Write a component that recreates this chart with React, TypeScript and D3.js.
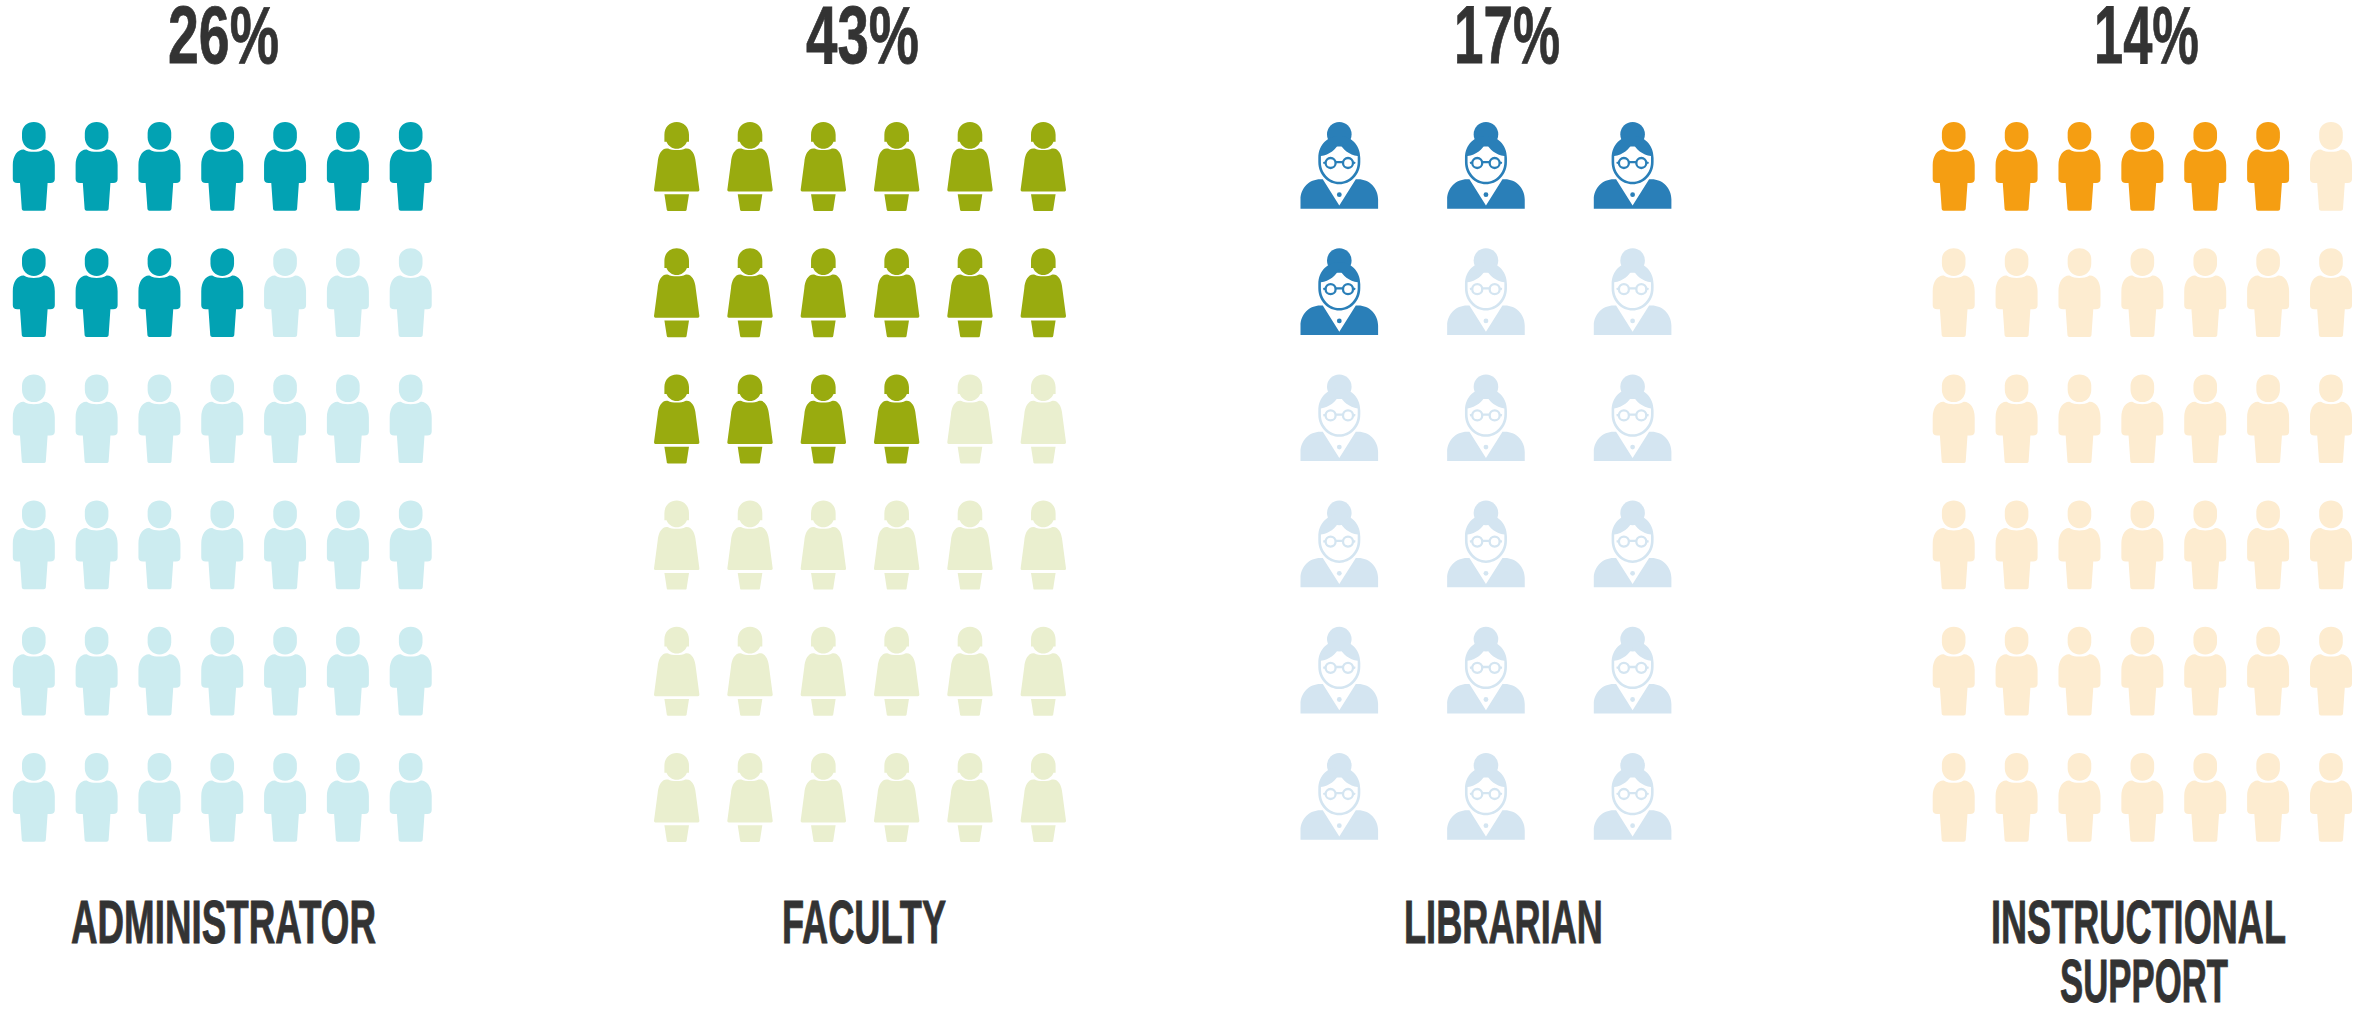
import React from "react";
import * as d3 from "d3";

// ---- data ----
const categories = ["ADMINISTRATOR", "FACULTY", "LIBRARIAN", "INSTRUCTIONAL SUPPORT"];
const percentLabels = ["26%", "43%", "17%", "14%"];
const filledIcons = [11, 16, 4, 6];
const columnCounts = [7, 6, 3, 7];
const rowCounts = [6, 6, 6, 6];
const iconKinds = ["man", "woman", "librarian", "man"];

// ---- styles / layout ----
const darkColors = ["#02A2B3", "#99AB0F", "#2A7FB8", "#F59E12"];
const lightColors = ["#CCECF0", "#EAEFCF", "#D4E5F1", "#FDECD0"];
const firstColumnX = [33.8, 676.7, 1339.3, 1953.7];
const lastColumnX = [410.7, 1043.3, 1632.6, 2331];
const percentExtents: [number, number][] = [[168, 279], [806, 919], [1454, 1560], [2094, 2199]];
const labelLines: [string, number, number, number][][] = [
  [["ADMINISTRATOR", 71, 376, 942.7]],
  [["FACULTY", 782, 946, 942.7]],
  [["LIBRARIAN", 1404, 1603, 942.7]],
  [["INSTRUCTIONAL", 1991, 2286, 942.7], ["SUPPORT", 2060, 2228, 1001.7]],
];

const WIDTH = 2356;
const HEIGHT = 1010;
const FONT = "'Liberation Sans Narrow', 'Liberation Sans', sans-serif";
const TEXT = "#333333";

const MAN_HEAD = "M-11.8,11 C-11.8,4.5 -6.5,0 0,0 C6.5,0 11.8,4.5 11.8,11 V15.5 C11.8,22.5 6.5,27.7 0,27.7 C-6.5,27.7 -11.8,22.5 -11.8,15.5 Z";
const MAN_BODY = "M-10,27.4 C-7,29.4 -3.5,29.8 0,29.8 C3.5,29.8 7,29.4 10,27.4 C16,27 21,33.5 21,43 V57 Q21,61 16.5,61 H13.8 L12,87 Q11.8,88.7 10,88.7 H-10 Q-11.8,88.7 -12,87 L-13.8,61 H-16.5 Q-21,61 -21,57 V43 C-21,33.5 -16,27 -10,27.4 Z";
const WOMAN_HEAD = "M-12.3,19.7 V12.7 C-12.3,5 -7,0 0,0 C7,0 12.3,5 12.3,12.7 V19.7 H10.2 C8.5,24 4.5,26.7 0,26.7 C-4.5,26.7 -8.5,24 -10.2,19.7 Z";
const WOMAN_BODY = "M-8.5,26.6 C-5,28.6 5,28.6 8.5,26.6 C14.5,25.2 18.4,32 19,40 L22.7,67.8 Q22.8,69.5 21.3,69.5 H-21.3 Q-22.8,69.5 -22.7,67.8 L-19,40 C-18.4,32 -14.5,25.2 -8.5,26.6 Z";
const WOMAN_SKIRT = "M-12.3,72.3 H12.3 L9.9,87.8 Q9.7,89 8.5,89 H-8.5 Q-9.7,89 -9.9,87.8 Z";
const LIB_HAIR = "M-21,36 C-21,22 -11,14 0,14 C11,14 21,22 21,36 V40 C21,53 11,62.3 0,62.3 C-11,62.3 -21,53 -21,40 Z M0,20.7 C-3,27 -10,33 -18.4,34 V40 C-18.4,51 -10,59.8 0,59.8 C10,59.8 18.4,51 18.4,40 V34 C10,33 3,27 0,20.7 Z";
const LIB_BODY = "M-38.8,86.7 V77.5 C-38.8,66 -30,57.3 -19,57.3 H-16.5 L0,83.5 L16.5,57.3 H19 C30,57.3 38.8,66 38.8,77.5 V86.7 Z";

function Icon({ kind, color, x, y }: { kind: string; color: string; x: number; y: number }) {
  const t = `translate(${x},${y})`;
  if (kind === "man") {
    return (
      <g transform={t} fill={color}>
        <path d={MAN_HEAD} />
        <path d={MAN_BODY} />
      </g>
    );
  }
  if (kind === "woman") {
    return (
      <g transform={t} fill={color}>
        <path d={WOMAN_HEAD} />
        <path d={WOMAN_BODY} />
        <path d={WOMAN_SKIRT} />
      </g>
    );
  }
  return (
    <g transform={t} fill={color}>
      <circle cx={0} cy={12.3} r={12.3} />
      <path d={LIB_HAIR} fillRule="evenodd" />
      <path d={LIB_BODY} />
      <circle cx={0} cy={72.7} r={2.4} />
      <g fill="none" stroke={color} strokeWidth={2.3}>
        <circle cx={-8.7} cy={41} r={5} />
        <circle cx={8.7} cy={41} r={5} />
        <path d="M-3.7,40.2 H3.7 M-13.7,40.5 L-16,41 M13.7,40.5 L16,41" />
      </g>
    </g>
  );
}

function Label({ text, x0, x1, baseline, size, weight }: { text: string; x0: number; x1: number; baseline: number; size: number; weight: number }) {
  return (
    <text
      x={x0}
      y={baseline}
      textLength={x1 - x0}
      lengthAdjust="spacingAndGlyphs"
      fontFamily={FONT}
      fontWeight={700}
      fontSize={size}
      fill={TEXT}
      stroke={TEXT}
      strokeWidth={weight}
    >
      {text}
    </text>
  );
}

export default function App() {
  const y = d3.scaleLinear().domain([0, 5]).range([122, 753]);
  return (
    <svg
      width={WIDTH}
      height={HEIGHT}
      viewBox={`0 0 ${WIDTH} ${HEIGHT}`}
      style={{ position: "absolute", left: 0, top: 0, display: "block", background: "#fff" }}
    >
      {categories.map((cat, c) => {
        const x = d3.scaleLinear().domain([0, columnCounts[c] - 1]).range([firstColumnX[c], lastColumnX[c]]);
        const cells = d3.cross(d3.range(rowCounts[c]), d3.range(columnCounts[c]));
        return (
          <g key={cat}>
            <Label text={percentLabels[c]} x0={percentExtents[c][0]} x1={percentExtents[c][1]} baseline={63} size={81} weight={0.8} />
            {cells.map(([r, col], i) => (
              <Icon
                key={i}
                kind={iconKinds[c]}
                color={i < filledIcons[c] ? darkColors[c] : lightColors[c]}
                x={x(col)}
                y={y(r)}
              />
            ))}
            {labelLines[c].map(([line, x0, x1, base]) => (
              <Label key={line} text={line} x0={x0} x1={x1} baseline={base} size={61} weight={0.9} />
            ))}
          </g>
        );
      })}
    </svg>
  );
}
